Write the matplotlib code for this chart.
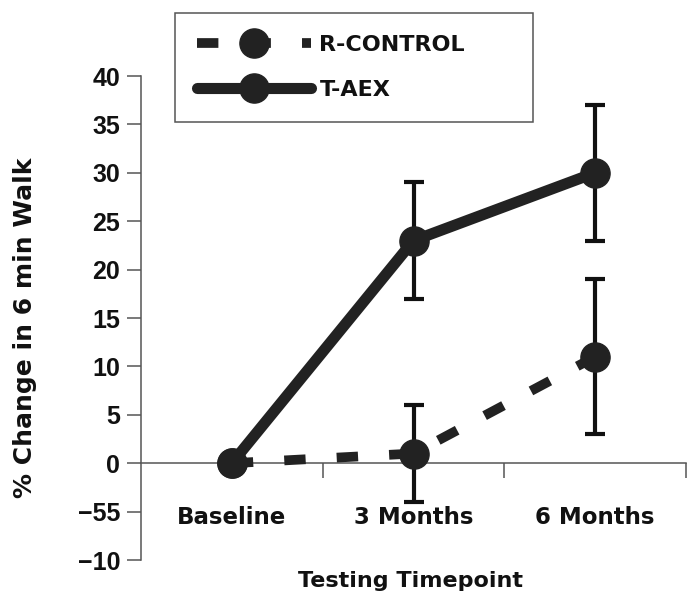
import numpy as np
import matplotlib.pyplot as plt

# values (% change in 6 min walk)
timepoints = ["Baseline", "3 Months", "6 Months"]
taex_mean = [0, 23, 30]
taex_err = [0, 6, 7]
control_mean = [0, 1, 11]
control_err = [0, 5, 8]

ytick_values = [40, 35, 30, 25, 20, 15, 10, 5, 0, -5, -10]
ytick_labels = ["40", "35", "30", "25", "20", "15", "10", "5", "0", "\u221255", "\u221210"]

dark = "#222222"
axis_gray = "#555555"


def make_walk_chart():
    fig = plt.figure(figsize=(6.96, 6.0), dpi=100)
    ax = fig.add_axes([141 / 696, 40 / 600, 545 / 696, 484 / 600])

    x = np.arange(len(timepoints)) + 0.5

    ax.plot(x, control_mean, linestyle="--", dashes=(2.2, 3.2), lw=7,
            marker="o", ms=21, color=dark, dash_capstyle="butt",
            label="R-CONTROL", zorder=3)
    ax.plot(x, taex_mean, linestyle="-", lw=8, marker="o", ms=21,
            color=dark, solid_capstyle="round", label="T-AEX", zorder=4)

    # error bars only where there is spread
    ax.errorbar(x[1:], control_mean[1:], yerr=control_err[1:], fmt="none",
                ecolor="#111111", elinewidth=3, capsize=7.5, capthick=3, zorder=2)
    ax.errorbar(x[1:], taex_mean[1:], yerr=taex_err[1:], fmt="none",
                ecolor="#111111", elinewidth=3, capsize=7.5, capthick=3, zorder=2)

    ax.set_xlim(0, 3)
    ax.set_ylim(-10, 40)

    for side in ["top", "right"]:
        ax.spines[side].set_visible(False)
    ax.spines["bottom"].set_position(("data", 0))
    ax.spines["bottom"].set_color(axis_gray)
    ax.spines["left"].set_color(axis_gray)
    ax.spines["bottom"].set_linewidth(1.1)
    ax.spines["left"].set_linewidth(1.1)

    ax.set_yticks(ytick_values)
    ax.set_yticklabels(ytick_labels, fontfamily="Liberation Sans",
                       fontweight="bold", fontsize=18, color="#111111")
    ax.tick_params(axis="y", direction="out", length=10, width=1.1,
                   color=axis_gray, pad=5)

    # category boundaries as major ticks, names as minor ticks
    ax.set_xticks([1, 2, 3])
    ax.set_xticklabels([])
    ax.set_xticks(x, minor=True)
    ax.set_xticklabels(timepoints, minor=True, fontweight="bold",
                       fontsize=16.5, color="#111111")
    ax.tick_params(axis="x", which="major", direction="out", length=11,
                   width=1.1, color=axis_gray)
    ax.tick_params(axis="x", which="minor", length=0, pad=31)

    ax.set_ylabel("% Change in 6 min Walk", fontweight="bold", fontsize=18,
                  color="#111111")
    ax.yaxis.set_label_coords(-0.19, 0.48)
    ax.set_xlabel("Testing Timepoint", fontweight="bold", fontsize=16,
                  color="#111111")
    ax.xaxis.set_label_coords(0.494, -0.022)

    leg = ax.legend(loc="upper left", bbox_to_anchor=(175 / 696, 0.8, 358 / 696, 1 - 13 / 600 - 0.8),
                    bbox_transform=fig.transFigure, mode="expand", borderaxespad=0,
                    numpoints=1, handlelength=5.1, handletextpad=0.4,
                    borderpad=1.0, labelspacing=1.1, fancybox=False,
                    framealpha=1, edgecolor=axis_gray,
                    prop={"weight": "bold", "size": 16})
    leg.get_frame().set_linewidth(1.1)
    for text in leg.get_texts():
        text.set_color("#111111")

    fig.savefig("out.png", dpi=100)


if __name__ == "__main__":
    make_walk_chart()
